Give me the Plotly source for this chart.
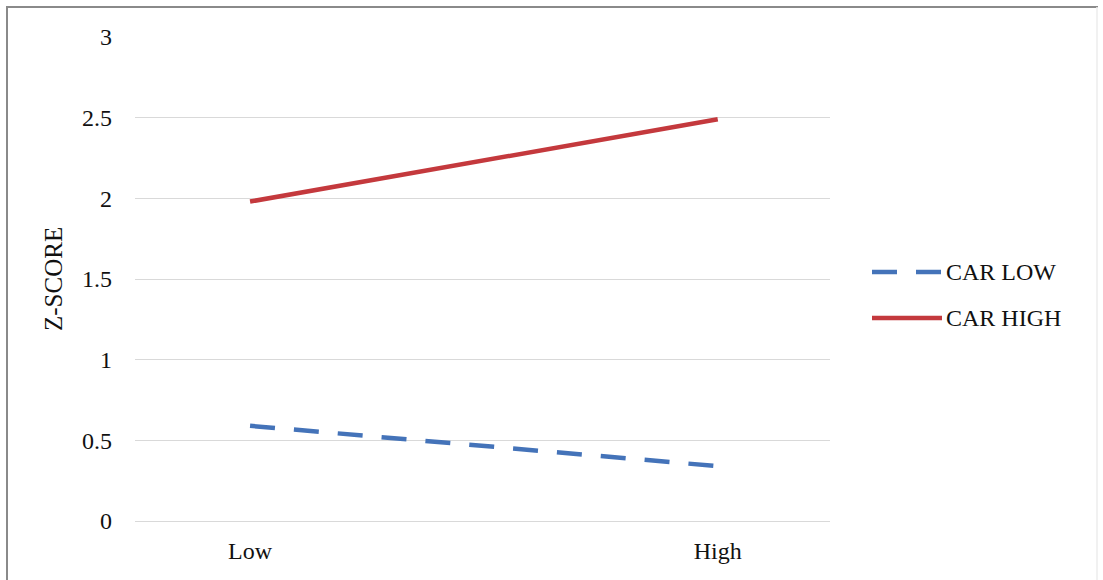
import plotly.graph_objects as go

# Category axis and series values
categories = ["Low", "High"]
car_low = [0.59, 0.34]
car_high = [1.98, 2.49]
series_names = ["CAR LOW", "CAR HIGH"]
y_ticks = [0, 0.5, 1, 1.5, 2, 2.5, 3]
y_tick_text = ["0", "0.5", "1", "1.5", "2", "2.5", "3"]

BLUE = "#4473B9"
RED = "#C4393D"
DASH = "25px,19px"
FONT = "Liberation Serif, Times New Roman, serif"
TEXT = "#111111"

# Plot-area geometry in pixels (used for the frame and legend placement)
W, H = 1103, 580
L, R, T, B = 135, 830, 37, 521
pw, ph = R - L, B - T


def px_x(v):
    return (v - L) / pw


def px_y(v):
    return (B - v) / ph


x_pos = list(range(len(categories)))

fig = go.Figure()
fig.add_trace(go.Scatter(
    x=x_pos, y=car_low, mode="lines", name=series_names[0],
    line=dict(color=BLUE, width=4.5, dash=DASH), showlegend=False,
))
fig.add_trace(go.Scatter(
    x=x_pos, y=car_high, mode="lines", name=series_names[1],
    line=dict(color=RED, width=4.5), showlegend=False,
))

shapes = [
    # outer frame
    dict(type="line", xref="paper", yref="paper", x0=px_x(7), x1=px_x(7),
         y0=px_y(6), y1=px_y(H + 5), line=dict(color="#8A8A8A", width=2)),
    dict(type="line", xref="paper", yref="paper", x0=px_x(6), x1=px_x(1098),
         y0=px_y(7), y1=px_y(7), line=dict(color="#8A8A8A", width=2)),
    dict(type="line", xref="paper", yref="paper", x0=px_x(1097), x1=px_x(1097),
         y0=px_y(7), y1=px_y(H + 5), line=dict(color="#ECECEC", width=1.5)),
    # legend swatches
    dict(type="line", xref="paper", yref="paper", x0=px_x(872), x1=px_x(942),
         y0=px_y(272), y1=px_y(272), line=dict(color=BLUE, width=4.5, dash=DASH)),
    dict(type="line", xref="paper", yref="paper", x0=px_x(872), x1=px_x(942),
         y0=px_y(318), y1=px_y(318), line=dict(color=RED, width=4.5)),
]

annotations = [
    dict(xref="paper", yref="paper", x=px_x(944), y=px_y(272), text=series_names[0],
         showarrow=False, xanchor="left", yanchor="middle",
         font=dict(family=FONT, size=24, color=TEXT)),
    dict(xref="paper", yref="paper", x=px_x(944), y=px_y(318), text=series_names[1],
         showarrow=False, xanchor="left", yanchor="middle",
         font=dict(family=FONT, size=24, color=TEXT)),
    dict(xref="paper", yref="paper", x=px_x(53), y=0.5, text="Z-SCORE",
         textangle=-90, showarrow=False, xanchor="center", yanchor="middle",
         font=dict(family=FONT, size=25, color=TEXT)),
]

fig.update_layout(
    width=W, height=H,
    margin=dict(l=L, r=W - R, t=T, b=H - B),
    paper_bgcolor="white", plot_bgcolor="white",
    font=dict(family=FONT, size=24, color=TEXT),
    shapes=shapes, annotations=annotations,
    xaxis=dict(
        range=[-0.246, 1.24], tickvals=x_pos, ticktext=categories,
        showgrid=False, zeroline=False, showline=False,
        ticks="", ticklabelstandoff=13, automargin=False,
        tickfont=dict(family=FONT, size=24, color=TEXT),
    ),
    yaxis=dict(
        range=[0, 3], tickvals=y_ticks, ticktext=y_tick_text,
        showgrid=True, gridcolor="#D9D9D9", gridwidth=1,
        zeroline=True, zerolinecolor="#D9D9D9", zerolinewidth=1,
        showline=False, ticks="", ticklabelstandoff=22, automargin=False,
        tickfont=dict(family=FONT, size=24, color=TEXT),
    ),
)

fig.write_html("out.html")
